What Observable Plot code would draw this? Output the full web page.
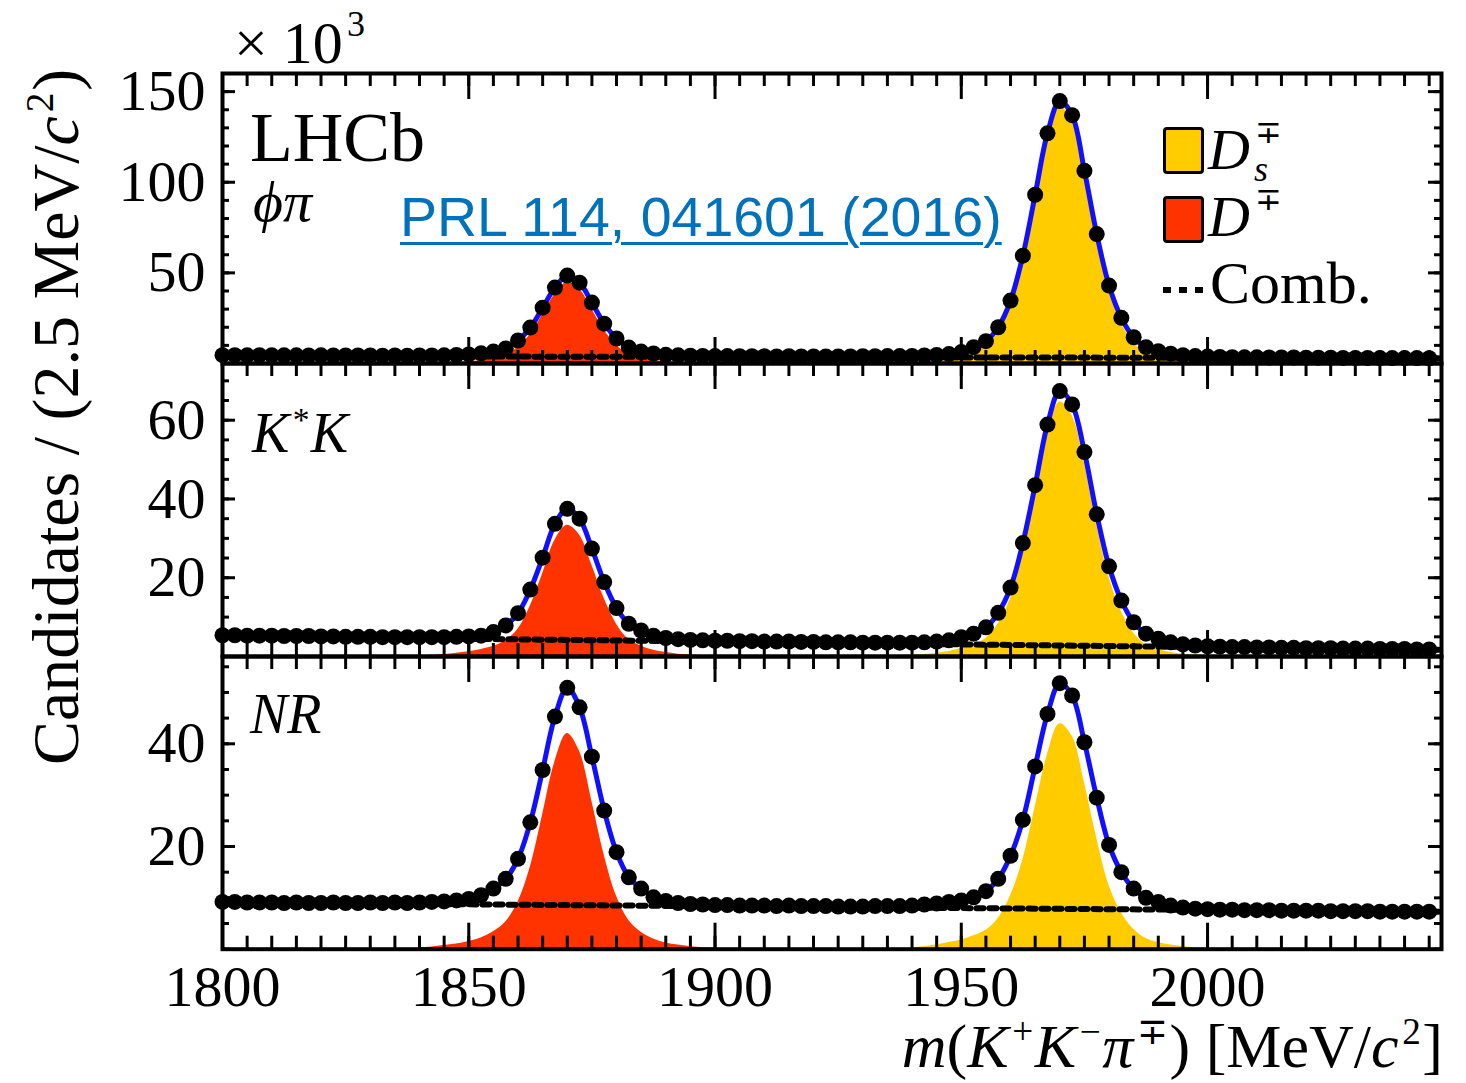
<!DOCTYPE html>
<html><head><meta charset="utf-8">
<script src="https://cdn.jsdelivr.net/npm/d3@7"></script>
<script src="https://cdn.jsdelivr.net/npm/@observablehq/plot@0.6"></script>
<style>
body{margin:0;background:#fff;}
#page{position:relative;width:1466px;height:1083px;overflow:hidden;background:#fff;font-family:"Liberation Serif","Times New Roman",serif;color:#000;}
.abs{position:absolute;white-space:nowrap;line-height:1;}
.abs sup{font-size:0.6em;position:relative;top:-0.62em;vertical-align:baseline;line-height:0;margin-left:0.1em;margin-right:0.04em;}
.abs i{font-style:italic;}
</style></head><body><div id="page"></div>
<script>
// ---------------- data ----------------
const massBins = d3.range(99).map(i => 1800 + 2.5 * i);   // bin centres, 2.5 MeV
const dpMass = d3.range(25).map(i => 1840 + 2.5 * i);     // D+ signal curve abscissae
const dsMass = d3.range(25).map(i => 1940 + 2.5 * i);     // Ds signal curve abscissae
const combMass = [1800, 2047.5];
const xDomain = [1800, 2047.5];
const xTickLabels = [1800, 1850, 1900, 1950, 2000];
const xMinorTicks = d3.range(1800, 2047.5, 5);

// phi pi  (x 10^3 candidates)
const phiCounts = [4.6,4.6,4.5,4.6,4.5,4.5,4.5,4.4,4.5,4.4,
 4.4,4.4,4.4,4.3,4.4,4.3,4.4,4.4,4.5,4.7,
 5.0,5.6,6.6,8.3,12.7,19.8,30.8,41.9,48.5,44.6,
 33.6,22.0,13.8,8.8,6.6,5.5,4.8,4.5,4.3,4.2,
 4.1,4.1,4.0,4.0,4.0,3.9,4.0,3.9,3.9,3.9,
 3.9,3.9,4.0,4.0,4.1,4.1,4.2,4.4,4.7,5.2,
 6.3,9.0,12.3,20.0,34.7,59.5,93.1,127.0,144.8,137.0,
 106.3,71.4,43.0,25.2,14.5,9.0,6.8,5.4,4.6,4.1,
 3.8,3.6,3.5,3.4,3.4,3.3,3.3,3.3,3.2,3.2,
 3.2,3.1,3.1,3.1,3.0,3.0,3.0,3.0,2.9];
const phiDp = [0.1,0.15,0.25,0.45,0.9,1.6,2.8,4.6,8.9,16.0,27.1,38.2,44.8,40.9,29.9,18.3,10.1,5.1,2.9,1.8,1.0,0.6,0.35,0.2,0.1];
const phiDs = [0.4,0.7,1.2,2.0,3.2,5.9,9.2,16.9,31.6,56.4,90.0,123.9,141.7,133.9,103.2,68.3,39.9,22.1,11.4,5.9,3.7,2.3,1.4,0.8,0.5];
const phiComb = [4.1, 2.9];
const phiYTicks = [50, 100, 150];

// K* K
const kstCounts = [5.4,5.4,5.3,5.3,5.3,5.2,5.2,5.2,5.1,5.1,
 5.0,5.0,5.0,4.9,4.9,4.9,4.9,4.9,4.9,5.0,
 5.1,5.3,6.2,7.9,11.0,17.0,25.1,33.7,37.5,35.0,
 27.4,18.9,12.3,8.3,6.6,5.3,4.7,4.4,4.2,4.1,
 4.0,4.0,3.9,3.9,3.8,3.8,3.8,3.7,3.7,3.6,
 3.6,3.6,3.5,3.5,3.5,3.5,3.5,3.6,3.8,4.1,
 4.9,5.8,7.4,11.1,17.5,28.8,43.5,58.9,67.4,64.0,
 51.9,36.1,22.9,14.2,8.7,5.8,4.5,3.6,3.1,2.8,
 2.6,2.5,2.4,2.4,2.3,2.3,2.2,2.2,2.1,2.1,
 2.1,2.0,2.0,2.0,1.9,1.9,1.9,1.8,1.8];
const kstDp = [0.2,0.3,0.5,0.8,1.2,1.8,2.6,4.0,6.9,12.8,21.0,29.5,33.3,30.8,23.2,14.7,8.2,4.3,2.6,1.6,1.0,0.6,0.35,0.2,0.1];
const kstDs = [0.3,0.5,0.8,1.3,2.1,3.0,4.6,8.3,14.7,26.0,40.7,56.1,64.6,61.2,49.1,33.3,20.1,11.4,5.9,3.0,1.8,1.0,0.6,0.35,0.2];
const kstComb = [5.2, 1.7];
const kstYTicks = [20, 40, 60];

// non-resonant
const nrCounts = [9.2,9.2,9.1,9.1,9.1,9.0,9.1,9.0,9.0,9.1,
 9.0,9.0,9.1,9.0,9.1,9.0,9.1,9.2,9.3,9.5,
 9.8,10.5,11.8,13.7,17.6,24.7,34.9,45.3,50.9,47.1,
 37.5,27.0,18.9,14.0,11.8,10.1,9.4,9.0,8.8,8.7,
 8.6,8.6,8.5,8.5,8.5,8.4,8.5,8.4,8.4,8.4,
 8.3,8.3,8.3,8.4,8.4,8.4,8.5,8.7,8.9,9.2,
 9.5,10.1,11.3,13.7,18.2,25.2,35.6,45.8,51.8,49.4,
 40.3,29.5,20.3,15.0,11.8,10.0,9.2,8.5,8.1,7.9,
 7.8,7.7,7.7,7.6,7.6,7.6,7.5,7.5,7.5,7.5,
 7.4,7.4,7.4,7.4,7.3,7.3,7.3,7.3,7.3];
const nrDp = [0.3,0.45,0.7,1.0,1.5,2.2,3.4,5.3,9.2,16.0,26.2,36.5,42.0,38.5,28.8,18.3,10.3,5.6,3.3,2.0,1.2,0.8,0.5,0.3,0.2];
const nrDs = [0.3,0.5,0.8,1.3,1.8,2.6,3.7,6.0,10.4,17.4,27.7,37.9,43.9,41.5,32.4,21.6,12.4,7.1,3.9,2.1,1.3,0.8,0.5,0.3,0.2];
const nrComb = [9.1, 7.3];
const nrYTicks = [20, 40];

// ---------------- layout ----------------
const W = 1466, ML = 222, MR = 25;
const page = document.getElementById("page");

function panel(counts, dp, ds, comb, yMax, yMajor, yMinor, top, height, mt, mb, showX) {
  const plotW = W - ML - MR, plotH = height - mt - mb;
  const xu = px => px * (xDomain[1] - xDomain[0]) / plotW;
  const yu = px => px * yMax / plotH;
  const tk = {stroke: "#000", strokeWidth: 3};
  const marks = [
    Plot.areaY(ds, {x: dsMass, y: ds, fill: "#ffcc00", curve: "catmull-rom"}),
    Plot.areaY(dp, {x: dpMass, y: dp, fill: "#ff3300", curve: "catmull-rom"}),
    Plot.line(comb, {x: combMass, y: comb, stroke: "#000", strokeWidth: 6, strokeDasharray: "7,6"}),
    Plot.line(counts, {x: massBins, y: counts, stroke: "#1010ff", strokeWidth: 5, curve: "catmull-rom"}),
    Plot.dot(counts, {x: massBins, y: counts, r: 8, fill: "#000"}),
    Plot.frame({stroke: "#000", strokeWidth: 4}),
    Plot.ruleX(xMinorTicks, {x: d => d, y1: 0, y2: yu(13), ...tk}),
    Plot.ruleX(xTickLabels, {x: d => d, y1: 0, y2: yu(26), ...tk}),
    Plot.ruleX(xMinorTicks, {x: d => d, y1: yMax, y2: yMax - yu(13), ...tk}),
    Plot.ruleX(xTickLabels, {x: d => d, y1: yMax, y2: yMax - yu(26), ...tk}),
    Plot.ruleY(yMinor, {y: d => d, x1: xDomain[0], x2: xDomain[0] + xu(7), ...tk}),
    Plot.ruleY(yMajor, {y: d => d, x1: xDomain[0], x2: xDomain[0] + xu(13), ...tk}),
    Plot.ruleY(yMinor, {y: d => d, x1: xDomain[1], x2: xDomain[1] - xu(7), ...tk}),
    Plot.ruleY(yMajor, {y: d => d, x1: xDomain[1], x2: xDomain[1] - xu(13), ...tk}),
    Plot.axisY({ticks: yMajor, anchor: "left", tickSize: 0, tickPadding: 17, fontSize: 58, label: null, tickFormat: d => String(d)})
  ];
  if (showX) marks.push(Plot.axisX({ticks: xTickLabels, anchor: "bottom", tickSize: 0, tickPadding: 16, fontSize: 58, label: null, tickFormat: d => String(d)}));
  const svg = Plot.plot({
    width: W, height,
    marginLeft: ML, marginRight: MR, marginTop: mt, marginBottom: mb,
    x: {domain: xDomain, axis: null},
    y: {domain: [0, yMax], axis: null},
    style: {fontFamily: '"Liberation Serif", "Times New Roman", serif', fontSize: "58px", background: "transparent", overflow: "visible", color: "#000"},
    marks
  });
  svg.style.position = "absolute";
  svg.style.left = "0px";
  svg.style.top = top + "px";
  page.appendChild(svg);
}

panel(phiCounts, phiDp, phiDs, phiComb, 160, phiYTicks, d3.range(0, 161, 10), 0, 365, 73, 2, false);
panel(kstCounts, kstDp, kstDs, kstComb, 74.4, kstYTicks, d3.range(0, 74.4, 5), 361, 297, 2, 2, false);
panel(nrCounts, nrDp, nrDs, nrComb, 57, nrYTicks, d3.range(0, 57, 5), 654, 429, 2, 134.3, true);

// ---------------- text ----------------
const SERIF_BASE = 0.8375, SANS_BASE = 0.8465;
function txt(html, {left, right, baseline, size, sans = false, style = ""}) {
  const d = document.createElement("div");
  d.className = "abs";
  d.innerHTML = html;
  const top = baseline - (sans ? SANS_BASE : SERIF_BASE) * size;
  let css = `top:${top}px;font-size:${size}px;`;
  if (left !== undefined) css += `left:${left}px;`;
  if (right !== undefined) css += `right:${right}px;text-align:right;`;
  if (sans) css += 'font-family:"Liberation Sans",Arial,sans-serif;';
  d.style.cssText = css + style;
  page.appendChild(d);
  return d;
}

txt("× 10", {left: 234, baseline: 63, size: 60});
txt("3", {left: 347, baseline: 36, size: 36});
txt("LHCb", {left: 250, baseline: 162, size: 70});
txt("<i>ϕπ</i>", {left: 253, baseline: 222, size: 58});
txt("<i>K</i><sup>*</sup><i>K</i>", {left: 252, baseline: 452, size: 56});
txt("<i>NR</i>", {left: 250, baseline: 733, size: 56});
txt("PRL 114, 041601 (2016)", {left: 400, baseline: 237, size: 55.5, sans: true,
  style: "color:#0072bc;text-decoration:underline;text-decoration-thickness:3px;text-underline-offset:6px;"});

// legend
function box(top, color) {
  const b = document.createElement("div");
  b.style.cssText = `position:absolute;left:1163px;top:${top}px;width:41px;height:47px;box-sizing:border-box;border:3px solid #000;border-radius:4px;background:${color};`;
  page.appendChild(b);
}
box(127, "#ffcc00");
box(196, "#ff3300");
txt("<i>D</i>", {left: 1208, baseline: 170, size: 58});
txt("∓", {left: 1255, baseline: 143, size: 32});
txt("<i>s</i>", {left: 1254, baseline: 181, size: 36});
txt("<i>D</i>", {left: 1208, baseline: 237, size: 58});
txt("∓", {left: 1255, baseline: 210, size: 32});
const dash = document.createElement("div");
dash.style.cssText = "position:absolute;left:1163px;top:287px;width:42px;height:6px;background:repeating-linear-gradient(to right,#000 0 8px,transparent 8px 16px);";
page.appendChild(dash);
txt("Comb.", {left: 1210, baseline: 303, size: 60});

// axis titles
txt("<i>m</i>(<i>K</i><sup>+</sup><i>K</i><sup>−</sup><i>π</i><sup>∓</sup>) [MeV/<i>c</i><sup>2</sup>]", {right: 23, baseline: 1067, size: 62});
const yt = txt("Candidates / (2.5 MeV/<i>c</i><sup>2</sup>)", {left: 22.7, baseline: 0, size: 66});
yt.style.top = "765px";
yt.style.transformOrigin = "0 0";
yt.style.transform = "rotate(-90deg)";
</script></body></html>
